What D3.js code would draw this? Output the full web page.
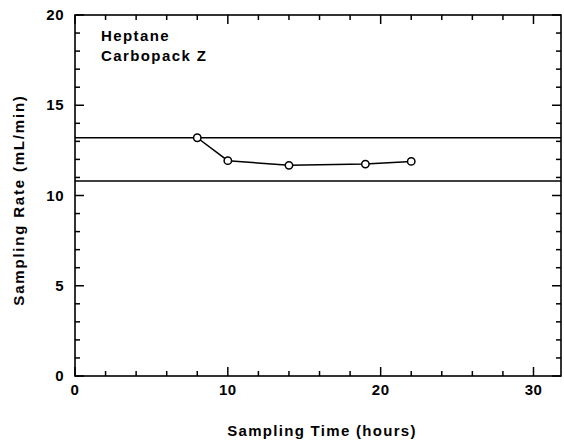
<!DOCTYPE html>
<html><head><meta charset="utf-8">
<script src="https://cdn.jsdelivr.net/npm/d3@7"></script>
<style>body{margin:0;background:#fff}svg{display:block}text{font-family:"Liberation Sans",Arial,sans-serif;font-weight:bold;fill:#000}</style>
</head><body>
<script>
const timeHours = [8, 10, 14, 19, 22];
const samplingRate = [13.2, 11.93, 11.67, 11.74, 11.89];
const limitLines = [13.2, 10.8];
const xTicks = [0, 10, 20, 30];
const yTicks = [0, 5, 10, 15, 20];
const labels = ["Heptane", "Carbopack Z"];

const W = 564, H = 448;
const m = {left: 75, right: 3, top: 15, bottom: 72};
const svg = d3.select("body").append("svg").attr("width", W).attr("height", H);
const x = d3.scaleLinear().domain([0, 31.8]).range([m.left, W - m.right]);
const y = d3.scaleLinear().domain([0, 20]).range([H - m.bottom, m.top]);
const x0 = x.range()[0], x1 = x.range()[1], y0 = y.range()[0], y1 = y.range()[1];

// frame
svg.append("rect").attr("x", x0).attr("y", y1).attr("width", x1 - x0).attr("height", y0 - y1)
  .attr("fill", "none").attr("stroke", "#000").attr("stroke-width", 1.6);

const minorX = d3.range(0, 32, 2), minorY = d3.range(0, 21, 1);
const g = svg.append("g").attr("stroke", "#000").attr("stroke-width", 1.5);
minorX.forEach(v => {
  const L = v % 10 === 0 ? 9 : 5;
  g.append("line").attr("x1", x(v)).attr("x2", x(v)).attr("y1", y0).attr("y2", y0 - L);
  g.append("line").attr("x1", x(v)).attr("x2", x(v)).attr("y1", y1).attr("y2", y1 + L);
});
minorY.forEach(v => {
  const L = v % 5 === 0 ? 9 : 5;
  g.append("line").attr("x1", x0).attr("x2", x0 + L).attr("y1", y(v)).attr("y2", y(v));
  g.append("line").attr("x1", x1).attr("x2", x1 - L).attr("y1", y(v)).attr("y2", y(v));
});

// tick labels
svg.selectAll(".xt").data(xTicks).enter().append("text")
  .attr("x", d => x(d)).attr("y", y0 + 19).attr("text-anchor", "middle")
  .attr("font-size", 15).attr("letter-spacing", 0.5).text(d => d);
svg.selectAll(".yt").data(yTicks).enter().append("text")
  .attr("x", x0 - 11).attr("y", d => y(d) + 5).attr("text-anchor", "end")
  .attr("font-size", 15).attr("letter-spacing", 0.5).text(d => d);

// axis titles
svg.append("text").attr("x", 322).attr("y", 436).attr("text-anchor", "middle")
  .attr("font-size", 15).attr("letter-spacing", 1.3).text("Sampling Time (hours)");
svg.append("text").attr("transform", "translate(24,200) rotate(-90)").attr("text-anchor", "middle")
  .attr("font-size", 15).attr("letter-spacing", 1.8).text("Sampling Rate (mL/min)");

// limit lines
svg.selectAll(".lim").data(limitLines).enter().append("line")
  .attr("x1", x0).attr("x2", x1).attr("y1", d => y(d)).attr("y2", d => y(d))
  .attr("stroke", "#000").attr("stroke-width", 1.5);

// data line
const pts = timeHours.map((t, i) => [t, samplingRate[i]]);
svg.append("path").datum(pts)
  .attr("d", d3.line().x(d => x(d[0])).y(d => y(d[1])))
  .attr("fill", "none").attr("stroke", "#000").attr("stroke-width", 1.5);
svg.selectAll(".pt").data(pts).enter().append("circle")
  .attr("cx", d => x(d[0])).attr("cy", d => y(d[1])).attr("r", 3.7)
  .attr("fill", "#fff").attr("stroke", "#000").attr("stroke-width", 1.5);

// labels
labels.forEach((s, i) => svg.append("text").attr("x", 101).attr("y", 41 + i * 20)
  .attr("font-size", 15).attr("letter-spacing", 1.4).text(s));
</script>
</body></html>
